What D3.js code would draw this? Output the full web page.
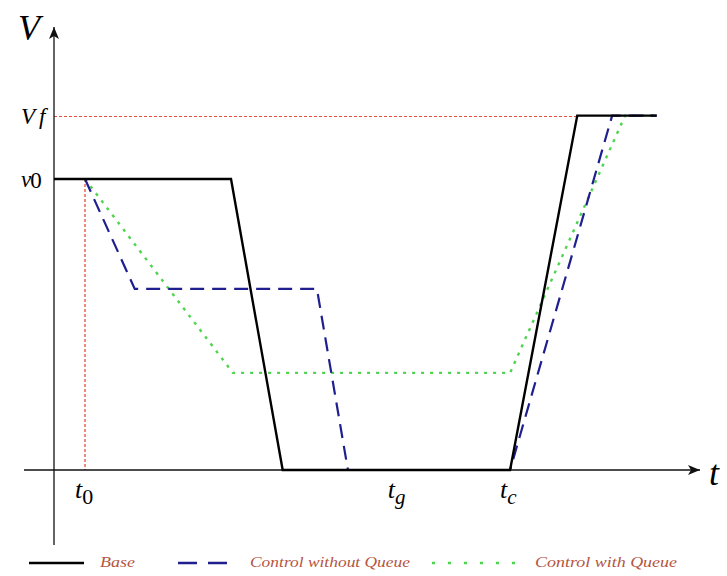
<!DOCTYPE html>
<html>
<head>
<meta charset="utf-8">
<script src="https://cdn.jsdelivr.net/npm/d3@7"></script>
<style>
  html, body { margin: 0; padding: 0; background: #ffffff; }
  svg { display: block; }
</style>
</head>
<body>
<svg id="chart" width="727" height="576"></svg>
<script>
// Speed profiles V(t) for the three strategies, as breakpoints [t, V].
const baseSeries = [[0, 82.1], [27.4, 82.1], [35.4, 0], [70.6, 0], [81.0, 100], [93.3, 100]];
const noQueueSeries = [[4.8, 82.1], [12.5, 51.1], [40.7, 51.1], [45.5, 0], [70.6, 0], [86.4, 100], [93.3, 100]];
const withQueueSeries = [[4.8, 82.1], [27.7, 27.4], [70.6, 27.4], [88.4, 100], [93.3, 100]];

// Marked instants on the time axis and levels on the speed axis.
const timeMarks = [
  { base: "t", sub: "0", t: 4.8, upright: true },
  { base: "t", sub: "g", t: 53.2, upright: false },
  { base: "t", sub: "c", t: 70.6, upright: false }
];
const speedMarks = [
  { base: "V", sub: "f", v: 100 },
  { base: "v", sub: "0", v: 82.1 }
];
const legendNames = ["Base", "Control without Queue", "Control with Queue"];

const svg = d3.select("#chart");

const x = d3.scaleLinear().domain([0, 100]).range([54, 700]);
const y = d3.scaleLinear().domain([0, 125]).range([470, 27]);

const serif = "'Liberation Serif', 'DejaVu Serif', serif";
const refColor = "#e0503c";

// Arrowhead marker
const defs = svg.append("defs");
defs.append("marker")
  .attr("id", "arrow")
  .attr("viewBox", "0 0 12 10")
  .attr("refX", 12).attr("refY", 5)
  .attr("markerWidth", 12).attr("markerHeight", 10)
  .attr("markerUnits", "userSpaceOnUse")
  .attr("orient", "auto")
  .append("path")
  .attr("d", "M0,0 L12,5 L0,10 L3,5 Z")
  .attr("fill", "#111");

// Reference guides: final speed level and the start instant
svg.append("line")
  .attr("x1", x(0)).attr("x2", x(81.0))
  .attr("y1", Math.round(y(100)) + 0.5).attr("y2", Math.round(y(100)) + 0.5)
  .attr("stroke", refColor).attr("stroke-width", 1)
  .attr("stroke-dasharray", "3,2");
svg.append("line")
  .attr("x1", x(4.8)).attr("x2", x(4.8))
  .attr("y1", y(82.1)).attr("y2", y(0))
  .attr("stroke", refColor).attr("stroke-width", 1.3)
  .attr("stroke-dasharray", "3,2");

// Axes with arrows
svg.append("line")
  .attr("x1", 24).attr("x2", x(100))
  .attr("y1", y(0)).attr("y2", y(0))
  .attr("stroke", "#111").attr("stroke-width", 1.3)
  .attr("marker-end", "url(#arrow)");
svg.append("line")
  .attr("x1", x(0)).attr("x2", x(0))
  .attr("y1", 545).attr("y2", y(125))
  .attr("stroke", "#111").attr("stroke-width", 1.3)
  .attr("marker-end", "url(#arrow)");

const line = d3.line().x(d => x(d[0])).y(d => y(d[1]));

const styles = [
  { data: baseSeries, color: "#000000", width: 2.4, dash: null, legendDash: null },
  { data: noQueueSeries, color: "#1f1f8f", width: 2.2, dash: "14,8", legendDash: "19,11" },
  { data: withQueueSeries, color: "#4fd44f", width: 2.4, dash: "3,6", legendDash: "3,13" }
];

// Draw in reverse so the base curve sits on top
styles.slice().reverse().forEach(s => {
  svg.append("path")
    .datum(s.data)
    .attr("d", line)
    .attr("fill", "none")
    .attr("stroke", s.color)
    .attr("stroke-width", s.width)
    .attr("stroke-dasharray", s.dash)
    .attr("stroke-linejoin", "miter");
});

// Axis titles
svg.append("text")
  .attr("x", 18).attr("y", 40)
  .attr("font-family", serif).attr("font-style", "italic")
  .attr("font-size", 36)
  .text("V");
svg.append("text")
  .attr("x", 709).attr("y", 485)
  .attr("font-family", serif).attr("font-style", "italic")
  .attr("font-size", 36)
  .text("t");

// Speed level labels
speedMarks.forEach(m => {
  const t = svg.append("text")
    .attr("x", 21).attr("y", y(m.v) + 8)
    .attr("font-family", serif).attr("font-size", 23);
  t.append("tspan").attr("font-style", "italic").text(m.base);
  t.append("tspan")
    .attr("font-style", m.sub === "0" ? "normal" : "italic")
    .attr("dx", m.sub === "f" ? 4 : -1)
    .attr("dy", m.sub === "f" ? 0 : 1)
    .text(m.sub);
});

// Time instant labels
timeMarks.forEach(m => {
  const t = svg.append("text")
    .attr("x", x(m.t) - 10).attr("y", 498)
    .attr("font-family", serif).attr("font-size", 26);
  t.append("tspan").attr("font-style", "italic").text(m.base);
  t.append("tspan")
    .attr("font-style", m.upright ? "normal" : "italic")
    .attr("font-size", m.upright ? 22 : 21)
    .attr("dy", 6)
    .text(m.sub);
});

// Legend
const legendItems = [
  { x1: 29, x2: 84, tx: 100, tw: 35 },
  { x1: 178, x2: 236, tx: 250, tw: 160 },
  { x1: 432, x2: 515, tx: 535, tw: 142 }
];
legendItems.forEach((item, i) => {
  const s = styles[i];
  svg.append("line")
    .attr("x1", item.x1).attr("x2", item.x2)
    .attr("y1", 563).attr("y2", 563)
    .attr("stroke", s.color)
    .attr("stroke-width", i === 0 ? 2.6 : 2.4)
    .attr("stroke-dasharray", s.legendDash);
  svg.append("text")
    .attr("x", item.tx).attr("y", 567)
    .attr("font-family", serif).attr("font-style", "italic")
    .attr("font-size", 15)
    .attr("fill", "#b4553f")
    .attr("textLength", item.tw)
    .attr("lengthAdjust", "spacingAndGlyphs")
    .text(legendNames[i]);
});
</script>
</body>
</html>
